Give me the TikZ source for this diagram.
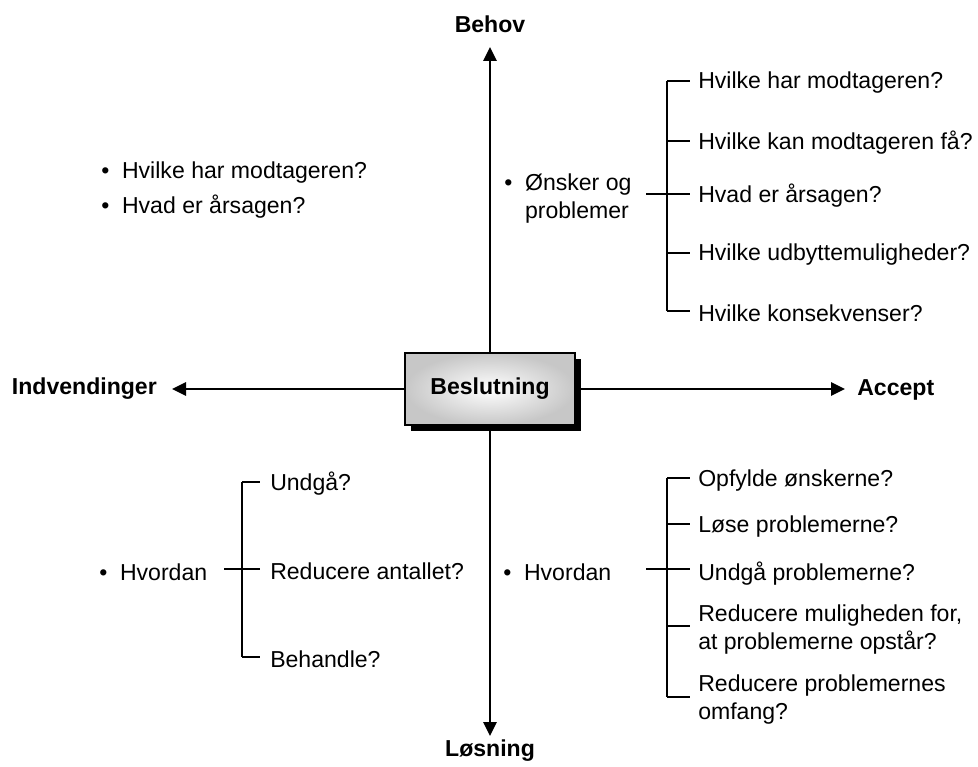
\documentclass[tikz,border=0pt]{standalone}
\usepackage{fontspec}
\setmainfont{Liberation Sans}
\usetikzlibrary{arrows.meta}
\usetikzlibrary{shadows}

\tikzset{
    lbl/.style={font=\fontsize{17.3}{21}\selectfont, inner sep=0pt, align=left},
    head/.style={font=\fontsize{17.3}{21}\selectfont\bfseries, inner sep=0pt},
    axis/.style={line width=1.5pt, -{Triangle[length=10.5pt,width=10pt]}},
    brk/.style={line width=1pt},
    stub/.style={line width=1.7pt},
}
\newcommand{\bul}{\makebox[15.6pt][l]{\textbullet}}

\begin{document}
\begin{tikzpicture}[x=0.75pt,y=-0.75pt]
        \useasboundingbox (0,0) rectangle (978,767);

        \node[head, draw, line width=1pt, inner color=white, outer color=black!22,
              minimum width=127.5pt, minimum height=54pt,
              drop shadow={shadow xshift=4.5pt, shadow yshift=-4.5pt, fill=black, opacity=1}]
              (dec) at (490,389) {Beslutning};

        \node[head] (behov) at (490,24) {Behov};
        \node[head] (losning) at (490,751) {Løsning};
        \node[head, anchor=east] (indv) at (157,389) {Indvendinger};
        \node[head, anchor=west] (accept) at (857,390) {Accept};

        \coordinate (tipN) at (490,47);
        \coordinate (tipS) at (490,736);
        \coordinate (tipW) at (172,389);
        \coordinate (tipE) at (845,389);
        \draw[axis] (dec.north) -- (tipN);
        \draw[axis] (dec.south) -- (tipS);
        \draw[axis] (dec.west) -- (tipW);
        \draw[axis] (dec.east) -- (tipE);

        \node[lbl, anchor=west] (tl1) at (101,173) {\bul Hvilke har modtageren?};
        \node[lbl, anchor=west] (tl2) at (101,207) {\bul Hvad er årsagen?};

        \node[lbl, anchor=west] (onsker) at (504,199)
              {\begin{tabular}{@{}l@{}l@{}}\bul & Ønsker og\\ & problemer\end{tabular}};
        \coordinate (s1) at (646,194);
        \coordinate (j1) at (667,194);
        \draw[stub] (s1) -- (j1);
        \foreach \y/\t [count=\i] in {81/Hvilke har modtageren?, 141/Hvilke kan modtageren få?,
                194/Hvad er årsagen?, 253/Hvilke udbyttemuligheder?, 311/Hvilke konsekvenser?} {
            \coordinate (a\i) at (667,\y);
            \node[lbl, anchor=west] (ta\i) at (698,\y+2) {\t};
            \draw[brk, shorten >=6pt] (a\i) -- (a\i -| ta\i.west);
        }
        \draw[brk] (a1) -- (a5);

        \node[lbl, anchor=west] (hv1) at (503,572) {\bul Hvordan};
        \coordinate (s2) at (646,569);
        \coordinate (j2) at (667,569);
        \draw[stub] (s2) -- (j2);
        \foreach \y/\ty/\t [count=\i] in {478/481/Opfylde ønskerne?, 524/527/Løse problemerne?,
                569/574/Undgå problemerne?, 626/630/{Reducere muligheden for,\\at problemerne opstår?},
                697/700/{Reducere problemernes\\omfang?}} {
            \coordinate (b\i) at (667,\y);
            \node[lbl, anchor=west] (tb\i) at (698,\ty) {\t};
            \draw[brk, shorten >=6pt] (b\i) -- (b\i -| tb\i.west);
        }
        \draw[brk] (b1) -- (b5);

        \node[lbl, anchor=west] (hv2) at (99,572) {\bul Hvordan};
        \coordinate (s3) at (224,569);
        \coordinate (j3) at (242,569);
        \draw[stub] (s3) -- (j3);
        \foreach \y/\t [count=\i] in {482/Undgå?, 569/Reducere antallet?, 657/Behandle?} {
            \coordinate (c\i) at (242,\y);
            \node[lbl, anchor=west] (tc\i) at (270,\y+2) {\t};
            \draw[brk, shorten >=7.5pt] (c\i) -- (c\i -| tc\i.west);
        }
        \draw[brk] (c1) -- (c3);
\end{tikzpicture}
\end{document}
